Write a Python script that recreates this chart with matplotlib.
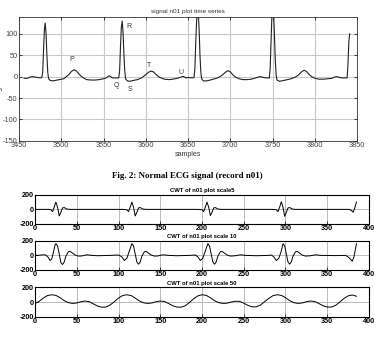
# ECG record n01: time series and its CWT at three scales
import matplotlib.pyplot as plt

# ECG signal (record n01), samples 3456..3841
ecg_x = [3456, 3460, 3463, 3466, 3469, 3472, 3475, 3477, 3478, 3479, 3480, 3481, 3482, 3483, 3484, 3485,
         3487, 3490, 3495, 3500, 3503, 3506, 3509, 3512, 3515, 3518, 3521, 3524, 3527, 3530, 3535, 3540,
         3545, 3550, 3553, 3555, 3557, 3559, 3561, 3564, 3568, 3569, 3570, 3571, 3572, 3573, 3574, 3575,
         3576, 3578, 3581, 3585, 3590, 3594, 3597, 3600, 3603, 3606, 3609, 3612, 3615, 3618, 3622, 3627,
         3632, 3637, 3640, 3643, 3645, 3647, 3650, 3655, 3657, 3658, 3659, 3660, 3661, 3662, 3663, 3664,
         3665, 3666, 3668, 3672, 3678, 3685, 3690, 3694, 3697, 3700, 3703, 3706, 3710, 3715, 3720, 3725,
         3730, 3733, 3736, 3739, 3742, 3746, 3747, 3748, 3749, 3750, 3751, 3752, 3753, 3754, 3755, 3758,
         3763, 3770, 3776, 3780, 3784, 3787, 3790, 3793, 3796, 3800, 3805, 3810, 3815, 3820, 3823, 3826,
         3829, 3832, 3838, 3839, 3840, 3841]
ecg_y = [-4, -4, -1, 0, -1, -2, -3, -2, 10, 60, 110, 125, 100, 50, 10, -5,
         -9, -10, -8, -6, -5, 0, 5, 12, 16, 13, 6, 0, -4, -7, -8, -8,
         -7, -5, -3, 0, 2, -1, -3, -3, -3, 15, 70, 115, 130, 105, 55, 15,
         -5, -10, -11, -9, -7, -4, 0, 5, 10, 13, 11, 5, 0, -3, -6, -7,
         -6, -4, -2, 0, 0, -3, -2, -3, -2, 20, 80, 130, 150, 150, 110, 50,
         10, -5, -10, -10, -7, -3, 3, 10, 14, 11, 4, -1, -5, -7, -7, -6,
         -3, -1, 0, -2, -3, -3, 20, 80, 140, 160, 150, 100, 40, 5, -8, -11,
         -9, -6, -2, 3, 11, 15, 12, 5, 0, -4, -6, -6, -5, -4, -1, 0,
         -2, -3, -3, 30, 80, 100]

# wave labels
wave_names = ['P', 'R', 'Q', 'S', 'T', 'U']
wave_x = [3512, 3580, 3565, 3581, 3604, 3641]
wave_y = [40, 116, -21, -29, 25, 9]

# CWT scale 5
cwt5_x = [0, 15, 19, 21, 23, 25, 27, 29, 31, 33, 35, 38, 42,
          105, 110, 112, 114, 116, 118, 120, 122, 124, 126, 129, 133,
          195, 200, 202, 204, 206, 208, 210, 212, 214, 216, 219, 223,
          284, 289, 291, 293, 295, 297, 299, 301, 303, 305, 308, 312,
          376, 379, 381, 383, 385]
cwt5_y = [0, 0, -5, -30, 30, 100, 30, -90, -40, 20, 25, 5, 0,
          0, -5, -30, 30, 100, 30, -90, -40, 20, 25, 5, 0,
          0, -5, -30, 30, 100, 30, -85, -40, 20, 25, 5, 0,
          0, -5, -30, 30, 105, 30, -95, -40, 20, 25, 5, 0,
          0, -15, -40, 20, 100]

# CWT scale 10
cwt10_x = [0, 5, 10, 13, 16, 18, 20, 22, 24, 25, 27, 29, 31, 33, 35, 37, 40, 42, 45, 48, 52, 56, 62, 68, 75,
           90, 100, 104, 107, 110, 113, 116, 118, 120, 122, 124, 126, 128, 131, 133, 136, 139, 143, 147, 153, 160,
           170, 185, 192, 195, 198, 201, 204, 207, 209, 211, 213, 215, 217, 219, 222, 224, 227, 230, 234, 240, 246,
           252, 265, 280, 283, 286, 289, 292, 295, 297, 299, 301, 303, 305, 307, 309, 312, 314, 317, 320, 324, 330,
           336, 342, 360, 372, 376, 380, 382, 384, 385]
cwt10_y = [0, 2, 8, 5, -30, -70, -50, 40, 140, 160, 130, 20, -100, -125, -90, -10, 50, 55, 30, 5, -10, -8, 8, 0, -5,
           0, 5, -20, -70, -40, 60, 160, 130, 20, -90, -120, -90, -10, 50, 55, 30, 5, -10, -8, 8, 0,
           -5, 0, 5, -20, -70, -40, 60, 160, 130, 20, -90, -120, -90, -10, 50, 55, 30, 5, -10, -5, 8,
           0, -5, 0, 5, -20, -70, -40, 60, 160, 130, 20, -90, -120, -90, -10, 50, 55, 30, 5, -10, -5,
           8, 0, -3, 0, -30, -80, -20, 100, 160]

# CWT scale 50
cwt50_x = [0, 5, 10, 15, 20, 25, 30, 35, 40, 45, 50, 55, 60, 65, 70, 75, 80, 85, 90, 95,
           100, 105, 110, 115, 120, 125, 130, 135, 140, 145, 150, 155, 160, 165, 170, 175, 180, 185, 190, 195,
           200, 205, 210, 215, 220, 225, 230, 235, 240, 245, 250, 255, 260, 265, 270, 275, 280, 285, 290, 295,
           300, 305, 310, 315, 320, 325, 330, 335, 340, 345, 350, 355, 360, 365, 370, 375, 380, 385]
cwt50_y = [-20, 10, 55, 90, 100, 92, 60, 20, -8, -18, -12, 5, 15, 5, -25, -55, -70, -68, -40, 5,
           55, 90, 100, 90, 55, 15, -10, -18, -12, 5, 15, 8, -20, -50, -68, -70, -50, -5, 45, 85,
           100, 92, 60, 20, -8, -18, -15, 0, 12, 10, -15, -45, -65, -65, -40, 5, 50, 88, 100, 92,
           60, 20, -8, -18, -12, 5, 15, 8, -20, -50, -68, -68, -45, 0, 50, 85, 97, 80]

plt.rcParams['font.family'] = ['Liberation Sans', 'DejaVu Sans']
plt.rcParams['axes.unicode_minus'] = False

fig = plt.figure(figsize=(3.74, 3.38), dpi=100)

# top plot: time series
ax = fig.add_axes([0.0508, 0.5834, 0.9045, 0.3672])
ax.plot(ecg_x, ecg_y, color='#222222', lw=0.8)
for name, x, y in zip(wave_names, wave_x, wave_y):
    ax.text(x, y, name, fontsize=5, color='#333333', ha='center', va='center')
ax.set_xlim(3450, 3850)
ax.set_ylim(-150, 140)
ax.set_xticks(range(3450, 3851, 50))
ax.set_yticks(range(-150, 101, 50))
ax.grid(True, color='#c8c8c8', lw=0.8)
ax.set_axisbelow(True)
ax.tick_params(labelsize=5.3, labelcolor='#444444', direction='in', length=2, width=0.5,
               top=True, right=True, pad=1)
for s in ax.spines.values():
    s.set_linewidth(0.6)
    s.set_color('#333333')
ax.set_title('signal n01 plot time series', fontsize=4.6, color='#333333', pad=3)
ax.set_xlabel('samples', fontsize=5, color='#333333', labelpad=1)
fig.text(0.0, 0.77, 'signal value', rotation=90, fontsize=5, color='#333333',
         ha='center', va='center')

# caption
fig.text(0.5, 0.478, 'Fig. 2: Normal ECG signal (record n01)', fontsize=6.4,
         family='Liberation Serif', weight='bold', ha='center', va='center')

# CWT plots
cwt_rows = [(cwt5_x, cwt5_y, 'CWT of n01 plot scale5', 0.3373),
            (cwt10_x, cwt10_y, 'CWT of n01 plot scale 10', 0.2012),
            (cwt50_x, cwt50_y, 'CWT of n01 plot scale 50', 0.0630)]
for xs, ys, title, bottom in cwt_rows:
    a = fig.add_axes([0.0936, bottom, 0.893, 0.0865])
    a.plot(xs, ys, color='black', lw=0.7)
    a.set_xlim(0, 400)
    a.set_ylim(-200, 200)
    a.set_xticks(range(0, 401, 50))
    a.set_yticks([-200, 0, 200])
    a.grid(True, color='#b0b0b0', lw=0.6)
    a.set_axisbelow(True)
    a.tick_params(labelsize=5.2, direction='in', length=2, width=0.5, pad=1)
    for lab in a.get_xticklabels() + a.get_yticklabels():
        lab.set_fontweight('bold')
    for s in a.spines.values():
        s.set_linewidth(0.8)
    a.set_title(title, fontsize=4.2, weight='bold', pad=2)

plt.savefig('out.png', dpi=100)
